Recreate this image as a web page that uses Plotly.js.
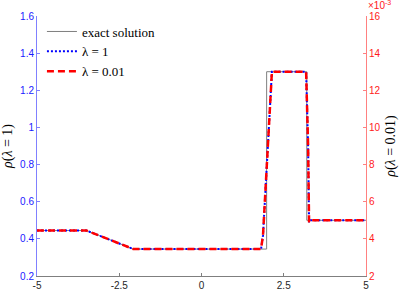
<!DOCTYPE html>
<html>
<head>
<meta charset="utf-8">
<script src="https://cdn.plot.ly/plotly-3.0.1.min.js"></script>
<style>html,body{margin:0;padding:0;background:#fff;}#chart{width:399px;height:291px;}</style>
</head>
<body>
<div id="chart"></div>
<script>
// ---- data ----
var xExact   = [-5, -3.5, -2.07, 1.98, 1.98, 3.2, 3.2, 5];
var rhoExact = [0.445, 0.445, 0.345, 0.345, 1.30, 1.30, 0.50, 0.50];

var xNum     = [-5, -3.5, -2.07, 1.81, 1.87, 2.01, 2.14, 3.18, 3.24, 3.27, 3.32, 5];
var rhoLam1  = [0.445, 0.445, 0.345, 0.345, 0.42, 0.88, 1.30, 1.30, 0.90, 0.49, 0.50, 0.50];
var rhoLam001 = [0.00445, 0.00445, 0.00345, 0.00345, 0.0042, 0.0088, 0.0130, 0.0130, 0.0090, 0.0049, 0.0050, 0.0050];

var xTickVals = [-5, -2.5, 0, 2.5, 5];
var xTickText = ['-5', '-2.5', '0', '2.5', '5'];
var yLeftTicks = [0.2, 0.4, 0.6, 0.8, 1, 1.2, 1.4, 1.6];
var yLeftText = ['0.2', '0.4', '0.6', '0.8', '1', '1.2', '1.4', '1.6'];
var yRightTicks = [0.002, 0.004, 0.006, 0.008, 0.010, 0.012, 0.014, 0.016];
var yRightText = ['2', '4', '6', '8', '10', '12', '14', '16'];

var serif = 'Liberation Serif, DejaVu Serif, serif';
var sans = 'Liberation Sans, Arial, sans-serif';

var traces = [
  {x: xExact, y: rhoExact, mode: 'lines', name: 'exact solution', yaxis: 'y',
   line: {color: '#7f7f7f', width: 1}, legendrank: 1},
  {x: xNum, y: rhoLam001, mode: 'lines', name: 'λ = 0.01', yaxis: 'y2',
   line: {color: '#ff0000', width: 2.5, dash: '7px,4px'}, legendrank: 3},
  {x: xNum, y: rhoLam1, mode: 'lines', name: 'λ = 1', yaxis: 'y',
   line: {color: '#0000ff', width: 2, dash: '2px,2px'}, legendrank: 2}
];

var layout = {
  width: 399, height: 291,
  margin: {l: 37, r: 33, t: 16, b: 15, pad: 0},
  paper_bgcolor: '#ffffff', plot_bgcolor: '#ffffff',
  showlegend: true,
  legend: {x: 0.015, y: 0.998, xanchor: 'left', yanchor: 'top',
    bgcolor: 'rgba(0,0,0,0)', borderwidth: 0, tracegroupgap: 0,
    font: {family: serif, size: 13, color: '#000'}},
  xaxis: {range: [-5, 5], tickvals: xTickVals, ticktext: xTickText,
    ticks: 'inside', ticklen: 3, tickcolor: '#7f7f7f',
    showline: true, linecolor: '#7f7f7f', linewidth: 1, mirror: false,
    showgrid: false, zeroline: false, automargin: false,
    tickfont: {family: sans, size: 10, color: '#262626'}},
  yaxis: {range: [0.2, 1.6], tickvals: yLeftTicks, ticktext: yLeftText,
    ticks: 'inside', ticklen: 3, tickcolor: '#7f7fff',
    showline: true, linecolor: '#8080ff', linewidth: 1,
    showgrid: false, zeroline: false, automargin: false,
    tickfont: {family: sans, size: 10, color: '#1a1aff'},
    title: {text: '<i>ρ</i>(<i>λ</i> = 1)', standoff: 6,
      font: {family: serif, size: 14, color: '#000'}}},
  yaxis2: {range: [0.002, 0.016], tickvals: yRightTicks, ticktext: yRightText,
    overlaying: 'y', side: 'right', anchor: 'x',
    ticks: 'inside', ticklen: 3, tickcolor: '#ff8080',
    showline: true, linecolor: '#ff8080', linewidth: 1,
    showgrid: false, zeroline: false, automargin: false,
    tickfont: {family: sans, size: 10, color: '#ff1a1a'},
    title: {text: '<i>ρ</i>(<i>λ</i> = 0.01)', standoff: 6,
      font: {family: serif, size: 14, color: '#000'}}},
  annotations: [
    {xref: 'paper', yref: 'paper', x: 1, y: 1, xanchor: 'left', yanchor: 'bottom',
     xshift: 0, yshift: 3, showarrow: false,
     text: '×10<sup>-3</sup>', font: {family: sans, size: 10, color: '#ff1a1a'}}
  ]
};

Plotly.newPlot('chart', traces, layout, {displayModeBar: false, staticPlot: true});
</script>
</body>
</html>
